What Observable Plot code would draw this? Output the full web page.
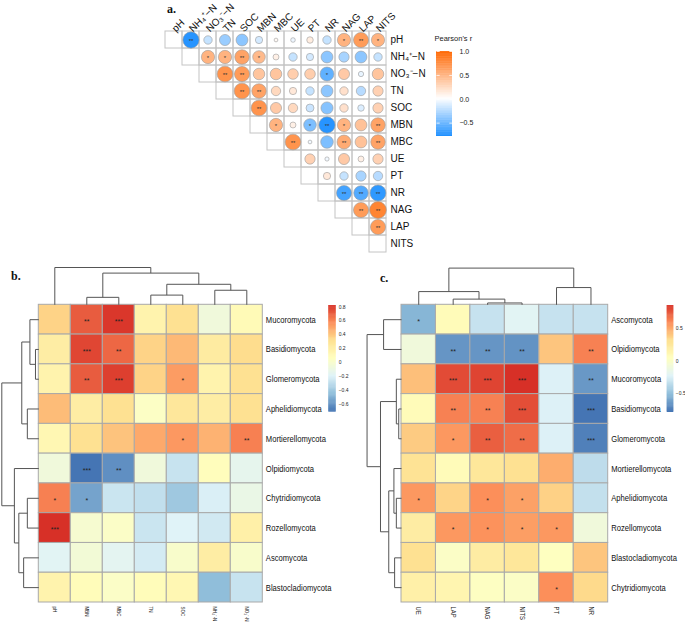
<!DOCTYPE html>
<html><head><meta charset="utf-8">
<script src="https://cdn.jsdelivr.net/npm/d3@7"></script>
<script src="https://cdn.jsdelivr.net/npm/@observablehq/plot@0.6"></script>
<style>
body{margin:0;background:#fff;}
#root{position:relative;width:685px;height:622px;overflow:hidden;font-family:"Liberation Sans",Arial,sans-serif;background:#fff;}
#root > svg{position:absolute;}
.lab{position:absolute;font-family:"Liberation Serif","Times New Roman",serif;font-weight:bold;font-size:12px;line-height:12px;color:#111;}
</style></head><body><div id="root"></div>
<script>
// ---------------- Panel a: Pearson correlations among soil variables ----------------
const varsA = ["pH","NH₄⁺−N","NO₃⁻−N","TN","SOC","MBN","MBC","UE","PT","NR","NAG","LAP","NITS"];
// upper triangle, row i holds r with columns i+1..12
const corrA = [
  [-0.75,-0.20,-0.35,-0.40,-0.15,0.04,-0.06,0.12,-0.20,0.50,0.65,0.50],
  [0.50,0.50,0.60,0.45,0.10,-0.20,-0.15,-0.40,-0.30,-0.40,-0.20],
  [0.70,0.65,0.38,0.38,0.32,0.32,-0.55,0.35,-0.08,0.38],
  [0.70,0.60,0.25,0.15,-0.20,-0.40,0.20,-0.25,0.30],
  [0.70,0.35,0.25,-0.18,-0.42,0.20,-0.12,0.30],
  [0.50,0.10,-0.45,-0.75,0.50,0.40,0.60],
  [0.70,-0.04,-0.45,0.55,0.40,0.60],
  [0.30,-0.05,0.35,0.10,0.30],
  [0.15,-0.20,-0.30,-0.25],
  [-0.65,-0.60,-0.72],
  [0.65,0.80],
  [0.65],
  []
];
const starsA = [
  ["**","","","","","","","","","*","**","*"],
  ["*","*","**","*","","","","","","",""],
  ["**","**","","","","","*","","",""],
  ["**","**","","","","","","",""],
  ["**","","","","","","",""],
  ["*","","*","**","*","","**"],
  ["**","","","**","","**"],
  ["","","","",""],
  ["","","",""],
  ["**","**","**"],
  ["**","**"],
  ["**"],
  []
];
const legendTitleA = "Pearson's r";
const legendDomainA = [-0.78, 0, 1.0];
const legendTicksA = [1.0, 0.5, 0.0, -0.5];
const coloursA = ["#1E90FF", "#FFFFFF", "#FF6600"];

// ---------------- Panel b: fungal phyla vs soil properties ----------------
const phylaB = ["Mucoromycota","Basidiomycota","Glomeromycota","Aphelidiomycota","Mortierellomycota","Olpidiomycota","Chytridiomycota","Rozellomycota","Ascomycota","Blastocladiomycota"];
const envB = ["pH","MBN","MBC","TN","SOC","NH₄⁺-N","NO₃⁻-N"];
const corrB = [
  [0.35,0.70,0.80,0.15,0.30,-0.07,0.10],
  [0.20,0.76,0.67,0.35,0.43,0.22,0.32],
  [0.15,0.70,0.78,0.35,0.52,0.15,0.30],
  [0.42,0.20,0.30,0.03,0.25,0.20,0.30],
  [0.12,0.30,0.40,0.48,0.53,0.45,0.60],
  [-0.07,-0.71,-0.62,-0.07,-0.28,0.07,-0.15],
  [0.60,-0.55,-0.27,-0.30,-0.41,-0.22,-0.12],
  [0.82,-0.02,0.02,-0.27,-0.20,-0.25,0.18],
  [-0.18,-0.05,-0.17,-0.24,0.00,0.20,0.00],
  [0.15,0.08,0.02,0.08,0.12,-0.46,-0.28]
];
const starsB = [
  ["","**","***","","","",""],
  ["","***","**","","","",""],
  ["","**","***","","*","",""],
  ["","","","","","",""],
  ["","","","","*","","**"],
  ["","***","**","","","",""],
  ["*","*","","","","",""],
  ["***","","","","","",""],
  ["","","","","","",""],
  ["","","","","","",""]
];
// hclust-style merges: negative = leaf (1-based), positive = earlier merge; third = relative height
const rowMergesB = [[-2,-3,0.09],[-1,1,0.24],[-4,-5,0.31],[2,3,0.46],[-7,-8,0.31],[-9,-10,0.41],[5,6,0.54],[-6,7,0.66],[4,8,1.0]];
const colMergesB = [[-2,-3,0.20],[-4,-5,0.26],[-6,-7,0.39],[2,3,0.55],[1,4,0.85],[-1,5,1.0]];
const legendDomainB = [-0.71, 0.82];
const legendTicksB = [0.8,0.6,0.4,0.2,0,-0.2,-0.4,-0.6];

// ---------------- Panel c: fungal phyla vs enzyme activities ----------------
const phylaC = ["Ascomycota","Olpidiomycota","Mucoromycota","Basidiomycota","Glomeromycota","Mortierellomycota","Aphelidiomycota","Rozellomycota","Blastocladiomycota","Chytridiomycota"];
const enzC = ["UE","LAP","NAG","NITS","PT","NR"];
const corrC = [
  [-0.55,0.07,-0.33,-0.22,-0.33,-0.33],
  [-0.10,-0.67,-0.67,-0.68,0.40,0.62],
  [0.42,0.78,0.80,0.86,-0.25,-0.66],
  [0.07,0.62,0.62,0.77,-0.25,-0.79],
  [0.38,0.55,0.72,0.68,-0.25,-0.75],
  [0.28,0.07,0.25,0.30,0.48,-0.36],
  [0.55,0.35,0.58,0.52,0.36,-0.34],
  [0.20,0.55,0.57,0.53,0.55,-0.10],
  [0.30,0.00,0.20,0.25,0.03,0.40],
  [0.17,0.12,0.02,0.00,0.58,0.33]
];
const starsC = [
  ["*","","","","",""],
  ["","**","**","**","","**"],
  ["","***","***","***","","**"],
  ["","**","**","***","","***"],
  ["","*","**","**","","***"],
  ["","","","","",""],
  ["*","","*","*","",""],
  ["","*","*","*","*",""],
  ["","","","","",""],
  ["","","","","*",""]
];
const rowMergesC = [[-1,-2,0.52],[-4,-5,0.08],[-3,2,0.15],[-7,-8,0.15],[-6,4,0.22],[-9,-10,0.20],[5,6,0.37],[3,7,0.61],[1,8,1.0]];
const colMergesC = [[-3,-4,0.05],[-2,1,0.155],[-1,2,0.36],[-5,-6,0.47],[3,4,1.0]];
const legendDomainC = [-0.79, 0.86];
const legendTicksC = [0.5,0,-0.5];

const heatColours = ["#4575B4","#91BFDB","#E0F3F8","#FFFFBF","#FEE090","#FC8D59","#D73027"];

// ---------------- helpers ----------------
const root = document.getElementById("root");
function place(svg, left, top){ svg.style.left = left+"px"; svg.style.top = top+"px"; root.appendChild(svg); }
const heatFont = '"Liberation Sans", Arial, sans-serif';
const baseStyle = {background:"transparent", overflow:"visible", fontFamily:'"Liberation Sans", Arial, sans-serif'};

// condense text horizontally (imitates a narrow typeface)
function condense(svg, tag, k){
  svg.querySelectorAll(`g[aria-description="${tag}"] text`).forEach(t => {
    let tr = t.getAttribute("transform");
    if (!tr){
      const x = +t.getAttribute("x") || 0, y = +t.getAttribute("y") || 0;
      t.removeAttribute("x"); t.removeAttribute("y");
      tr = `translate(${x},${y})`;
    }
    t.setAttribute("transform", tr + ` scale(${k},1)`);
  });
}

function dendro(merges){
  const nodes = [], segs = [];
  const get = k => k < 0 ? {pos: -k - 0.5, h: 0} : nodes[k-1];
  for (const [a,b,h] of merges){
    const A = get(a), B = get(b);
    segs.push({p1:A.pos,h1:A.h,p2:A.pos,h2:h});
    segs.push({p1:A.pos,h1:h,p2:B.pos,h2:h});
    segs.push({p1:B.pos,h1:B.h,p2:B.pos,h2:h});
    nodes.push({pos:(A.pos+B.pos)/2, h});
  }
  return segs;
}
function stops(lo, hi, n){ return d3.range(n).map(k => lo + (hi-lo)*k/(n-1)); }

function vLegend({width, height, x1, x2, yTop, yBot, domain, colour, ticks, fontSize, pad, fmt, title, whiteTicks}){
  const lo = domain[0], hi = domain[domain.length-1];
  const n = 120, step = (hi-lo)/n;
  const vals = d3.range(n).map(k => lo + k*step);
  const marks = [
    Plot.rect(vals, {x1:0, x2:1, y1:d=>d, y2:d=>Math.min(hi, d+step*1.6), fill:d=>d}),
    Plot.text(ticks, {x:1, y:d=>d, text:fmt, textAnchor:"start", dx:pad, fontSize, fill:"#222"})
  ];
  if (whiteTicks){
    marks.push(Plot.link(ticks, {x1:0, x2:0.2, y1:d=>d, y2:d=>d, stroke:"white", strokeWidth:0.8}));
    marks.push(Plot.link(ticks, {x1:0.8, x2:1, y1:d=>d, y2:d=>d, stroke:"white", strokeWidth:0.8}));
  }
  if (title) marks.push(Plot.text([title], {frameAnchor:"top-left", dx:-2, dy:-16, fontSize:7.5, textAnchor:"start", fill:"#222"}));
  return Plot.plot({
    width, height, marginLeft:x1, marginRight:width-x2, marginTop:yTop, marginBottom:height-yBot,
    x:{domain:[0,1], axis:null}, y:{domain:[lo,hi], axis:null},
    color: colour, style: baseStyle, marks
  });
}

// ---------------- Panel a ----------------
const dotsA = [], gridA = [];
varsA.forEach((rv,i) => {
  varsA.forEach((cv,j) => { if (j >= i) gridA.push({row:rv, col:cv}); });
  corrA[i].forEach((v,k) => dotsA.push({row:rv, col:varsA[i+1+k], r:v, s:starsA[i][k]}));
});
const colourA = {type:"linear", domain:legendDomainA, range:coloursA};
const plotA = Plot.plot({
  width:280, height:262, marginLeft:12.7, marginRight:42, marginTop:30, marginBottom:8.4,
  x:{type:"band", domain:varsA, padding:0, axis:null},
  y:{type:"band", domain:varsA, padding:0, axis:null},
  r:{type:"sqrt", domain:[0,1], range:[0,9.4]},
  color: colourA,
  style: baseStyle,
  marks:[
    Plot.cell(gridA, {x:"col", y:"row", fill:"none", stroke:"#c4c4c4", strokeWidth:1, inset:0}),
    Plot.dot(dotsA, {x:"col", y:"row", r:d=>Math.abs(d.r), fill:"r", stroke:"#9c9c9c", strokeWidth:0.6}),
    Plot.text(dotsA.filter(d=>d.s), {x:"col", y:"row", text:"s", fontSize:6, fill:"#333", dy:1.5}),
    Plot.text(varsA, {x:d=>d, frameAnchor:"top", rotate:-45, textAnchor:"start", dx:-3, dy:-3, fontSize:10, fill:"#111"}),
    Plot.text(varsA, {y:d=>d, frameAnchor:"right", textAnchor:"start", dx:2, fontSize:10, fill:"#111"})
  ]
});
place(plotA, 150, 0);
place(vLegend({width:50, height:120, x1:8, x2:24, yTop:26, yBot:111,
  domain:legendDomainA, colour:colourA, ticks:legendTicksA, fontSize:7, pad:7,
  fmt:d3.format(".1f"), title:legendTitleA, whiteTicks:true}), 428, 25);

// ---------------- Heatmap panel builder ----------------
function heatPanel({rows, cols, values, stars, rowMerges, colMerges, domain, width, height, mL, mR, mT, mB, rowTree, colTree, rowFont, colFont, colDy}){
  const cells = [];
  rows.forEach((r,i) => cols.forEach((c,j) => cells.push({i, j, v:values[i][j], s:stars[i][j]})));
  const colour = {type:"linear", domain:stops(domain[0], domain[1], heatColours.length), range:heatColours};
  const nC = cols.length, nR = rows.length;
  const plot = Plot.plot({
    width, height, marginLeft:mL, marginRight:mR, marginTop:mT, marginBottom:mB,
    x:{domain:[0,nC], axis:null}, y:{domain:[0,nR], reverse:true, axis:null},
    color: colour, style: baseStyle,
    marks:[
      Plot.rect(cells, {x1:d=>d.j, x2:d=>d.j+1, y1:d=>d.i, y2:d=>d.i+1, fill:"v", stroke:"#a9a9a9", strokeWidth:1}),
      Plot.text(cells.filter(d=>d.s), {x:d=>d.j+0.5, y:d=>d.i+0.5, text:"s", fontSize:7, fill:"#222", dy:2}),
      Plot.link(dendro(rowMerges), {x1:d=>-d.h1*rowTree, x2:d=>-d.h2*rowTree, y1:"p1", y2:"p2", stroke:"#555", strokeWidth:1}),
      Plot.link(dendro(colMerges), {x1:"p1", x2:"p2", y1:d=>-d.h1*colTree, y2:d=>-d.h2*colTree, stroke:"#555", strokeWidth:1}),
      Plot.text(rows, {x:nC, y:(d,i)=>i+0.5, text:d=>d, textAnchor:"start", dx:3, fontSize:rowFont, fontFamily:heatFont, fill:"#111", ariaDescription:"rowlab"}),
      Plot.text(cols, {x:(d,i)=>i+0.5, y:nR, text:d=>d, rotate:90, textAnchor:"start", dy:colDy, fontSize:colFont, fontFamily:heatFont, fill:"#222", ariaDescription:"collab"})
    ]
  });
  condense(plot, "rowlab", 0.82);
  condense(plot, "collab", 0.82);
  return {plot, colour};
}

// ---------------- Panel b ----------------
const B = heatPanel({rows:phylaB, cols:envB, values:corrB, stars:starsB, rowMerges:rowMergesB, colMerges:colMergesB,
  domain:legendDomainB, width:345, height:360, mL:38.3, mR:82.7, mT:42.3, mB:20,
  rowTree:37/32, colTree:37.3/29.77, rowFont:9.3, colFont:5.5, colDy:4});
place(B.plot, 0, 262);

// ---------------- Panel c ----------------
const C = heatPanel({rows:phylaC, cols:enzC, values:corrC, stars:starsC, rowMerges:rowMergesC, colMerges:colMergesC,
  domain:legendDomainC, width:340, height:360, mL:56, mR:77.3, mT:42.3, mB:20,
  rowTree:1, colTree:36.7/29.77, rowFont:9.3, colFont:7.2, colDy:4});
place(C.plot, 345, 262);

place(vLegend({width:28, height:130, x1:6.3, x2:13.7, yTop:15, yBot:121.7,
  domain:legendDomainB, colour:B.colour, ticks:legendTicksB, fontSize:5, pad:2.5, fmt:d3.format("")}), 322, 290);
place(vLegend({width:25, height:130, x1:6.7, x2:13.3, yTop:15, yBot:122,
  domain:legendDomainC, colour:C.colour, ticks:legendTicksC, fontSize:5, pad:2, fmt:d3.format("")}), 660, 290);

// panel letters
[["a.",167,3],["b.",11,270],["c.",380,272]].forEach(([t,l,tp]) => {
  const d = document.createElement("div"); d.className = "lab"; d.textContent = t;
  d.style.left = l+"px"; d.style.top = tp+"px"; root.appendChild(d);
});
</script></body></html>
